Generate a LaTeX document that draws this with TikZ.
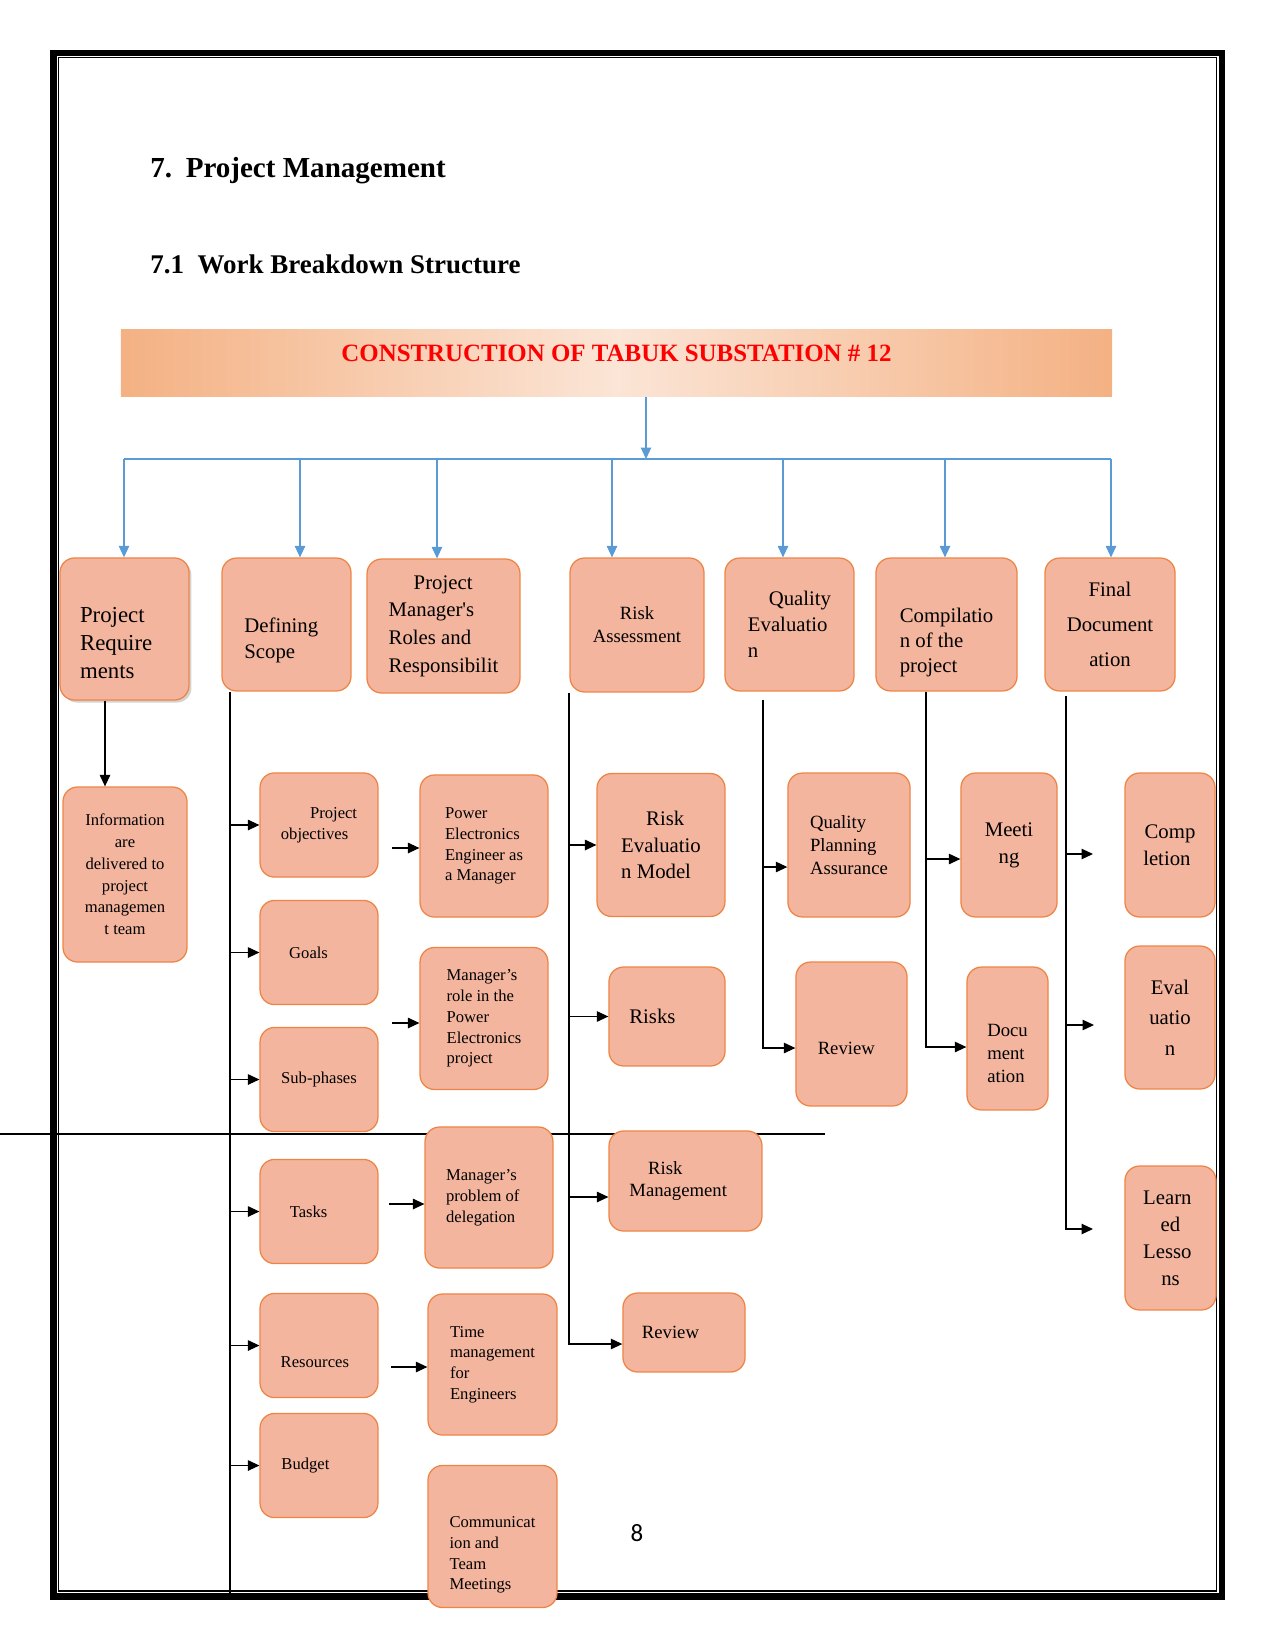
\documentclass[tikz,border=0pt]{standalone}
\usepackage{fontspec}
\setmainfont{Liberation Serif}
\newfontfamily\pagenumfont{Carlito}
\usepackage{xcolor}
\usepackage{tikz}
\usetikzlibrary{arrows.meta, shadows}
\definecolor{wfill}{HTML}{F4B59E}
\definecolor{wedge}{HTML}{EE8444}
\definecolor{wblue}{HTML}{5B9BD5}
\definecolor{borange}{HTML}{F4B183}
\definecolor{blight}{HTML}{FBE5D6}

\begin{document}
\begin{tikzpicture}[x=0.48bp, y=-0.48bp,
  wbs/.style={draw=wedge, fill=wfill, line width=0.6bp, rounded corners=7bp, inner sep=2bp, align=left},
  txtbig/.style={font=\fontsize{10}{13}\selectfont},
  txtmid/.style={font=\fontsize{9}{11}\selectfont},
  txtsmall/.style={font=\fontsize{8}{10}\selectfont},
  subbox/.style={wbs, txtsmall, minimum width=56.6bp, minimum height=50bp},
  blu/.style={draw=wblue, line width=0.6bp, -{Triangle[length=5.5bp, width=5bp]}},
  arr/.style={draw=black, line width=0.6bp, -{Triangle[length=5.5bp, width=5bp]}},
  trunk/.style={draw=black, line width=0.6bp}]
\useasboundingbox (0,0) rectangle (1275,1650);
% page frame
\draw[line width=3.1bp] (53.4,53) rectangle (1222,1596.7);
\draw[line width=0.5bp] (58.3,57.8) rectangle (1216.7,1591);
% headings
\node[anchor=base west, inner sep=0, font=\fontsize{14}{16}\selectfont\bfseries] (h1) at (150,177) {7.\hspace{6.5bp}Project Management};
\node[anchor=base west, inner sep=0, font=\fontsize{13}{15}\selectfont\bfseries] (h2) at (150,273) {7.1\hspace{6.5bp}Work Breakdown Structure};
% stray rule across the page
\draw[line width=0.6bp] (0,1134) -- (825,1134);
% banner
\node[minimum width=475.7bp, minimum height=32.6bp, inner sep=0, left color=borange, right color=borange, middle color=blight,
  text depth=9bp, font=\fontsize{12}{14}\selectfont\bfseries, text=red] (root) at (616.5,363) {CONSTRUCTION OF TABUK SUBSTATION \# 12};
% first level
\node[wbs, font=\fontsize{11}{13.6}\selectfont, minimum width=61.9bp, minimum height=68.2bp,
  drop shadow={shadow xshift=1.2bp, shadow yshift=-1.2bp, opacity=0.35}] (req) at (124.5,629) {\mbox{}\\[7bp]Project\\Require\kern8bp\\ments};
\node[wbs, font=\fontsize{10}{12.6}\selectfont, minimum width=61.9bp, minimum height=63.8bp] (scope) at (286.5,624.5) {\mbox{}\\[10bp]Defining\kern5bp\\Scope};
\node[wbs, font=\fontsize{10}{13.3}\selectfont, minimum width=73.4bp, minimum height=64.3bp] (roles) at (443.5,626) {\hspace*{12bp}Project\\Manager\textquotesingle s\\Roles and\\Responsibilit};
\node[wbs, txtmid, align=center, minimum width=64.3bp, minimum height=64.3bp] (riskass) at (637,625) {Risk\\Assessment};
\node[wbs, font=\fontsize{10}{12.4}\selectfont, minimum width=61.9bp, minimum height=63.8bp] (quality) at (789.5,624.5) {\hspace*{10bp}Quality\\Evaluatio\\n};
\node[wbs, font=\fontsize{10}{12.1}\selectfont, minimum width=67.7bp, minimum height=63.8bp] (compil) at (946.5,624.5) {\mbox{}\\[12bp]Compilatio\\n of the\\project};
\node[wbs, font=\fontsize{10}{17}\selectfont, align=center, minimum width=62.4bp, minimum height=63.8bp] (final) at (1110,624.5) {Final\\Document\\ation};
% project requirements
\node[wbs, font=\fontsize{8}{10.5}\selectfont, align=center, minimum width=59.5bp, minimum height=84bp] (info) at (125,874.5) {Information\\are\\delivered to\\project\\managemen\\t team};
% defining scope
\node[subbox] (obj) at (319,825) {\hspace*{14bp}Project\\objectives};
\node[subbox] (goals) at (319,952.5) {Goals\kern10bp};
\node[subbox] (subph) at (319,1079.5) {Sub-phases};
\node[subbox] (tasks) at (319,1211.5) {Tasks\kern10bp};
\node[subbox] (res) at (319,1345.5) {\mbox{}\\[11bp]Resources\kern4bp};
\node[subbox] (budget) at (319,1465.5) {Budget\kern13bp};
% project manager's roles
\node[wbs, txtsmall, minimum width=61.4bp, minimum height=68.2bp] (pe) at (484,846) {Power\\Electronics\\Engineer as\\a Manager};
\node[wbs, txtsmall, minimum width=61.4bp, minimum height=68.2bp] (role) at (484,1018.5) {Manager’s\\role in the\\Power\\Electronics\\project};
\node[wbs, txtsmall, minimum width=61.4bp, minimum height=67.7bp] (deleg) at (489,1197.5) {Manager’s\\problem of\kern6bp\\delegation};
\node[wbs, txtsmall, minimum width=61.9bp, minimum height=67.7bp] (time) at (492.5,1364.5) {Time\\management\\for\\Engineers};
\node[wbs, txtsmall, minimum width=61.9bp, minimum height=68.2bp] (comm) at (492.5,1536.5) {\mbox{}\\[13bp]Communicat\\ion and\\Team\\Meetings};
% risk assessment
\node[wbs, font=\fontsize{10}{12.6}\selectfont, minimum width=61.4bp, minimum height=68.6bp] (reval) at (661,845) {\hspace*{12bp}Risk\\Evaluatio\\n Model};
\node[wbs, font=\fontsize{10}{12}\selectfont, minimum width=55.7bp, minimum height=47.5bp] (risks) at (667,1016.5) {Risks\kern14bp};
\node[wbs, txtmid, minimum width=73.4bp, minimum height=48bp] (riskm) at (685.5,1181) {\hspace*{9bp}Risk\\Management\kern7bp};
\node[wbs, txtmid, minimum width=58.6bp, minimum height=37.9bp] (rrev) at (684,1332.5) {Review\kern13bp};
% quality evaluation
\node[wbs, txtmid, minimum width=58.6bp, minimum height=69.1bp] (qpa) at (849,845) {Quality\\Planning\\Assurance};
\node[wbs, txtmid, minimum width=53.3bp, minimum height=69.1bp] (qrev) at (851.5,1034) {\mbox{}\\[9bp]Review\kern5bp};
% compilation
\node[wbs, txtbig, align=center, minimum width=46.1bp, minimum height=69.1bp] (meet) at (1009,845) {Meeti\\ng};
\node[wbs, txtmid, minimum width=38.9bp, minimum height=68.6bp] (doc) at (1007.5,1038.5) {\mbox{}\\[9bp]Docu\\ment\\ation};
% final documentation
\node[wbs, txtbig, align=center, minimum width=43.2bp, minimum height=69.1bp] (compl) at (1170,845) {Comp\\letion\kern3bp};
\node[wbs, font=\fontsize{10}{14.6}\selectfont, align=center, minimum width=43.2bp, minimum height=68.6bp] (evalu) at (1170,1017.5) {Eval\\uatio\\n};
\node[wbs, txtbig, align=center, minimum width=43.7bp, minimum height=69.1bp] (learn) at (1170.5,1238) {Learn\kern3bp\\ed\\Lesso\kern3bp\\ns};
% page number
\node[font=\pagenumfont\fontsize{12}{14}\selectfont] (pg) at (637,1533) {8};

% blue tree
\coordinate (hub) at (646,459);
\coordinate (b1) at (124,459);
\coordinate (b2) at (300,459);
\coordinate (b3) at (437,459);
\coordinate (b4) at (612,459);
\coordinate (b5) at (783,459);
\coordinate (b6) at (945,459);
\coordinate (b7) at (1111,459);
\draw[blu] (root.south -| hub) -- (hub);
\draw[draw=wblue, line width=0.6bp] (b1) -- (b7);
\draw[blu] (b1) -- (b1 |- req.north);
\draw[blu] (b2) -- (b2 |- scope.north);
\draw[blu] (b3) -- (b3 |- roles.north);
\draw[blu] (b4) -- (b4 |- riskass.north);
\draw[blu] (b5) -- (b5 |- quality.north);
\draw[blu] (b6) -- (b6 |- compil.north);
\draw[blu] (b7) -- (b7 |- final.north);

% black branches
\coordinate (c1) at (105,700);
\draw[arr] (req.south -| c1) -- (info.north -| c1);

\coordinate (l2) at (230,1600);
\draw[trunk] (scope.south -| l2) -- (l2);
\draw[arr] (obj.west -| l2) -- (obj.west);
\draw[arr] (goals.west -| l2) -- (goals.west);
\draw[arr] (subph.west -| l2) -- (subph.west);
\draw[arr] (tasks.west -| l2) -- (tasks.west);
\draw[arr] (res.west -| l2) -- (res.west);
\draw[arr] (budget.west -| l2) -- (budget.west);

\coordinate (p1) at (392,848);
\coordinate (p2) at (392,1023);
\coordinate (p3) at (389,1204);
\coordinate (p4) at (391,1367);
\draw[arr] (p1) -- (p1 -| pe.west);
\draw[arr] (p2) -- (p2 -| role.west);
\draw[arr] (p3) -- (p3 -| deleg.west);
\draw[arr] (p4) -- (p4 -| time.west);

\coordinate (l4) at (569,1344);
\coordinate (k4) at (569,1197);
\draw[arr] (riskass.south -| l4) -- (l4) -- (l4 -| rrev.west);
\draw[arr] (reval.west -| l4) -- (reval.west);
\draw[arr] (risks.west -| l4) -- (risks.west);
\draw[arr] (k4) -- (k4 -| riskm.west);

\coordinate (l5) at (763,1048);
\coordinate (k5) at (763,867);
\draw[arr, shorten <=4bp] (quality.south -| l5) -- (l5) -- (l5 -| qrev.west);
\draw[arr] (k5) -- (k5 -| qpa.west);

\coordinate (l6) at (926,1047);
\coordinate (k6) at (926,859);
\draw[arr] (compil.south -| l6) -- (l6) -- (l6 -| doc.west);
\draw[arr] (k6) -- (k6 -| meet.west);

\coordinate (l7) at (1066,1229);
\coordinate (e7) at (1093,1229);
\coordinate (e5) at (1093,854);
\coordinate (e6) at (1094,1025);
\draw[arr, shorten <=2bp] (final.south -| l7) -- (l7) -- (e7);
\draw[arr] (e5 -| l7) -- (e5);
\draw[arr] (e6 -| l7) -- (e6);
\end{tikzpicture}
\end{document}
